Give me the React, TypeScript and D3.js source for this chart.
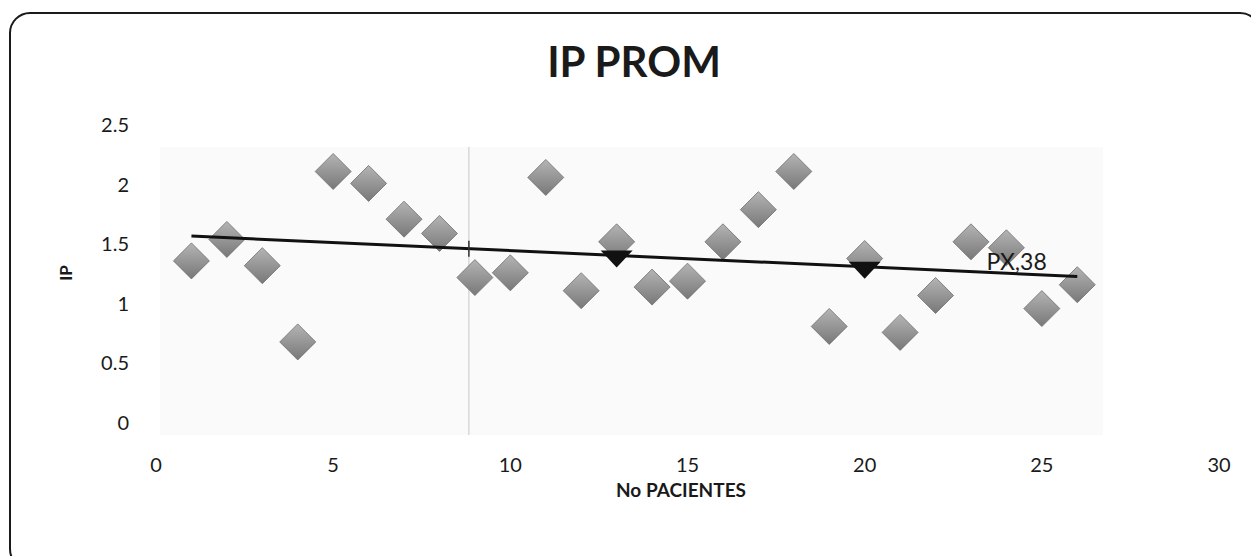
import React from "react";
import * as d3 from "d3";

// Patient numbers and their average IP
const patients = [1, 2, 3, 4, 5, 6, 7, 8, 9, 10, 11, 12, 13, 14, 15, 16, 17, 18, 19, 20, 21, 22, 23, 24, 25, 26];
const ipValues = [
  1.36, 1.54, 1.32, 0.68, 2.11, 2.01, 1.71, 1.59, 1.22, 1.26, 2.06, 1.11, 1.52,
  1.14, 1.19, 1.52, 1.79, 2.11, 0.81, 1.38, 0.76, 1.07, 1.52, 1.47, 0.96, 1.16,
];
const xTicks = [0, 5, 10, 15, 20, 25, 30];
const yTicks = [0, 0.5, 1, 1.5, 2, 2.5];
// Patients flagged with a marker on the trend line
const flagged = [13, 20];
const guideX = 8.83;
const trendLabel = "PX,38";
const labelAt = 24;

const W = 1251;
const H = 556;
const FONT = "Lato, 'Open Sans', sans-serif";

export default function App() {
  const x = d3.scaleLinear().domain([0, 30]).range([156, 1219]);
  const y = d3.scaleLinear().domain([0, 2.5]).range([423, 125]);

  // least-squares trend line
  const mx = d3.mean(patients) as number;
  const my = d3.mean(ipValues) as number;
  const sxy = d3.sum(patients, (p, i) => (p - mx) * (ipValues[i] - my));
  const sxx = d3.sum(patients, (p) => (p - mx) * (p - mx));
  const slope = sxy / sxx;
  const trend = (p: number) => my + slope * (p - mx);
  const x0 = d3.min(patients) as number;
  const x1 = d3.max(patients) as number;
  const trendPath = d3.line<number>().x((p) => x(p)).y((p) => y(trend(p)))([x0, x1]) as string;

  const r = 18;
  const diamond = (cx: number, cy: number) =>
    `M${cx},${cy - r}L${cx + r},${cy}L${cx},${cy + r}L${cx - r},${cy}Z`;

  return (
    <svg
      width={W}
      height={H}
      style={{ position: "absolute", left: 0, top: 0, background: "#fff" }}
      fontFamily={FONT}
    >
      <defs>
        <linearGradient id="mk" x1="0" y1="0" x2="0" y2="1">
          <stop offset="0" stopColor="#b4b4b4" />
          <stop offset="1" stopColor="#787878" />
        </linearGradient>
      </defs>
      {/* chart frame */}
      <rect x={10} y={13} width={1250} height={556} rx={20} ry={20} fill="#fff" stroke="#1a1a1a" strokeWidth={2} />

      {/* plot background */}
      <rect x={160} y={147} width={943} height={288} fill="#fafafa" />
      <line x1={x(guideX)} x2={x(guideX)} y1={147} y2={435} stroke="#cfcfcf" strokeWidth={1.2} />

      {/* title */}
      <text x={634} y={77} textAnchor="middle" fontSize={42} fontWeight={700} fill="#1a1a1a">
        IP PROM
      </text>

      {/* y axis labels */}
      {yTicks.map((t) => (
        <text key={t} x={129} y={y(t)} dy="0.35em" textAnchor="end" fontSize={20} fill="#1a1a1a">
          {t}
        </text>
      ))}
      <text
        transform={`translate(66,${273}) rotate(-90)`}
        textAnchor="middle"
        dy="0.35em"
        fontSize={17}
        fontWeight={700}
        fill="#1a1a1a"
      >
        IP
      </text>

      {/* x axis labels */}
      {xTicks.map((t) => (
        <text key={t} x={x(t)} y={465} dy="0.35em" textAnchor="middle" fontSize={20} fill="#1a1a1a">
          {t}
        </text>
      ))}
      <text x={681} y={497} textAnchor="middle" fontSize={19} fontWeight={700} fill="#1a1a1a">
        No PACIENTES
      </text>

      {/* points */}
      {patients.map((p, i) => (
        <path key={p} d={diamond(x(p), y(ipValues[i]))} fill="url(#mk)" stroke="#6e6e6e" strokeWidth={0.8} />
      ))}

      {/* trend line */}
      <path d={trendPath} fill="none" stroke="#111" strokeWidth={3} />
      <line
        x1={x(guideX)}
        x2={x(guideX)}
        y1={y(trend(guideX)) - 8}
        y2={y(trend(guideX)) + 8}
        stroke="#333"
        strokeWidth={1.5}
      />
      {flagged.map((p) => {
        const cx = x(p);
        const cy = y(trend(p));
        return (
          <path key={p} d={`M${cx - 16},${cy - 5}L${cx + 16},${cy - 5}L${cx},${cy + 12}Z`} fill="#111" />
        );
      })}
      <text x={x(labelAt) - 20} y={y(trend(labelAt)) - 3} fontSize={23} fill="#1a1a1a">
        {trendLabel}
      </text>
    </svg>
  );
}
